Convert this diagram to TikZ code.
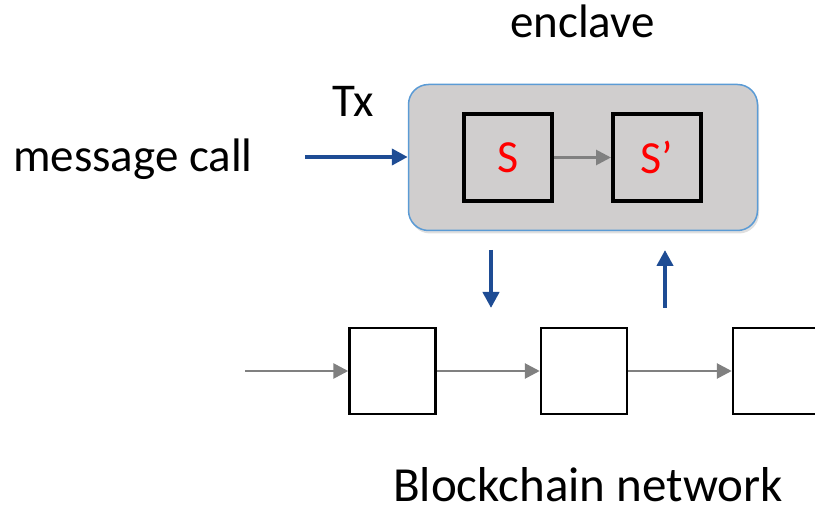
\documentclass[tikz,border=0pt]{standalone}
\usepackage{fontspec}
\setmainfont{Carlito}
\usetikzlibrary{arrows.meta,shadows}
\definecolor{enclfill}{RGB}{208,206,206}
\definecolor{enclborder}{RGB}{91,155,213}
\definecolor{callblue}{RGB}{30,76,148}
\definecolor{linkgray}{RGB}{128,128,128}
\definecolor{statered}{RGB}{255,0,0}
\begin{document}
\begin{tikzpicture}[x=1pt,y=-1pt,
  label/.style={font=\fontsize{47}{56}\selectfont, inner sep=0pt, anchor=base west},
  enclavebox/.style={draw=enclborder, line width=1.5pt, fill=enclfill,
    rounded corners=20pt, minimum width=349pt, minimum height=146pt,
    drop shadow={opacity=0.25, shadow xshift=1.5pt, shadow yshift=-3pt}},
  statebox/.style={draw=black, line width=4pt, minimum width=88pt, minimum height=87pt,
    inner sep=0pt, text=statered, font=\fontsize{46}{55}\selectfont},
  blockbox/.style={draw=black, line width=2.5pt, fill=white, minimum width=86pt,
    minimum height=86pt, inner sep=0pt},
  link/.style={draw=linkgray, line width=2.8pt, -{Triangle[length=15pt,width=15pt]}},
  call/.style={draw=callblue, line width=4.5pt, -{Triangle[length=16pt,width=16pt]}}]
\useasboundingbox (0,0) rectangle (815,521);

% labels
\node[label] (enclavelbl) at (510,38) {enclave};
\node[label] (txlbl) at (332,117) {Tx};
\node[label] (msglbl) at (13,172) {message call};
\node[label, font=\fontsize{49}{58}\selectfont] (netlbl) at (393,502) {Blockchain network};

% enclave with the state transition
\node[enclavebox] (encl) at (583,157.5) {};
\node[statebox] (s) at (508,157.5) {S};
\node[statebox] (s2) at (657,157.5) {S’};
\draw[link] (s.east) -- (s2.west);

% incoming transaction
\coordinate (callstart) at (305,157);
\draw[call] (callstart) -- (encl.west |- callstart);

% chain of blocks
\node[blockbox] (b1) at (392.5,371) {};
\node[blockbox] (b2) at (584,371) {};
\node[blockbox] (b3) at (776,371) {};
\coordinate (chainstart) at (245,371);
\draw[link] (chainstart) -- (b1.west);
\draw[link] (b1.east) -- (b2.west);
\draw[link] (b2.east) -- (b3.west);

% read state from chain / write state back
\coordinate (downtop) at (491,250);
\coordinate (downend) at (491,308);
\coordinate (uptop) at (665,250);
\coordinate (upend) at (665,308);
\draw[call] (downtop) -- (downend);
\draw[call] (upend) -- (uptop);
\end{tikzpicture}
\end{document}
